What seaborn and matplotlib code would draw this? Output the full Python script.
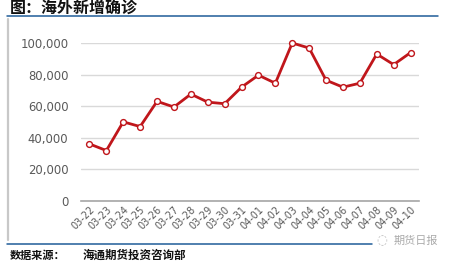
import matplotlib
matplotlib.use("Agg")
import matplotlib.pyplot as plt
import seaborn as sns
import pandas as pd
from matplotlib.lines import Line2D
from matplotlib.ticker import FuncFormatter

dates = ["03-22", "03-23", "03-24", "03-25", "03-26", "03-27", "03-28", "03-29", "03-30", "03-31",
         "04-01", "04-02", "04-03", "04-04", "04-05", "04-06", "04-07", "04-08", "04-09", "04-10"]
new_cases = [36000, 31800, 50000, 47000, 63000, 59400, 67600, 62500, 61500, 72000,
             79600, 74500, 100000, 96800, 76400, 72000, 74500, 93000, 86300, 93900]
y_ticks = [0, 20000, 40000, 60000, 80000, 100000]

title = "图：海外新增确诊"
source_label = "数据来源："
source_text = "海通期货投资咨询部"
watermark = "期货日报"

sns.set_theme(style="white")
plt.rcParams["font.family"] = ["Noto Sans CJK SC", "DejaVu Sans"]

W, H = 453, 264
fig = plt.figure(figsize=(W / 100, H / 100), dpi=100)
fig.patch.set_facecolor("white")

def fx(px):
    return px / W

def fy(py):
    return 1 - py / H

ax = fig.add_axes([fx(81), fy(200.7), fx(419) - fx(81), fy(43) - fy(200.7)])
df = pd.DataFrame({"date": dates, "cases": new_cases})
df["pos"] = range(len(df))
sns.lineplot(data=df, x="pos", y="cases", ax=ax, sort=False, color="#C0161B", linewidth=2.0,
             marker="o", markersize=4.2, markerfacecolor="white", markeredgecolor="#C0161B",
             markeredgewidth=1.0, clip_on=False, zorder=5)

ax.set_xlim(-0.5, len(dates) - 0.5)
ax.set_ylim(0, 100000)
ax.set_yticks(y_ticks)
ax.yaxis.set_major_formatter(FuncFormatter(lambda v, p: f"{int(v):,}"))
ax.set_xticks(range(len(dates)))
ax.set_xticklabels(dates, rotation=45, ha="right", rotation_mode="anchor",
                   fontsize=7, color="#595959", family="DejaVu Sans")
for lab in ax.get_yticklabels():
    lab.set_fontsize(8.4)
    lab.set_color("#595959")
    lab.set_family("DejaVu Sans")
ax.tick_params(axis="y", length=0, pad=9)
ax.tick_params(axis="x", length=0, pad=3)
ax.grid(axis="y", color="#D9D9D9", linewidth=1.0)
ax.grid(axis="x", visible=False)
for s in ["top", "right", "left"]:
    ax.spines[s].set_visible(False)
ax.spines["bottom"].set_color("#A6A6A6")
ax.spines["bottom"].set_linewidth(1.2)
ax.set_xlabel("")
ax.set_ylabel("")

# decorations
fig.add_artist(Line2D([fx(7), fx(438)], [fy(16), fy(16)], color="#1F5C99", linewidth=1.1))
fig.add_artist(Line2D([fx(8), fx(8)], [fy(19), fy(240)], color="#C8C8C8", linewidth=1.6))
fig.add_artist(Line2D([fx(7), fx(372)], [fy(244), fy(244)], color="#1F5C99", linewidth=1.1))

fig.text(fx(10), fy(8), title, fontsize=11.5, fontweight="bold", color="#111111", va="center", ha="left")
fig.text(fx(10), fy(255), source_label, fontsize=8, fontweight="bold", color="#111111", va="center", ha="left")
fig.text(fx(83), fy(255), source_text, fontsize=8.3, fontweight="bold", color="#111111", va="center", ha="left")
fig.text(fx(382), fy(241), "◌", fontsize=9, color="#BBBBBB", va="center", ha="center", family="DejaVu Sans")
fig.text(fx(394), fy(241), watermark, fontsize=8, color="#AAAAAA", va="center", ha="left")

fig.savefig("out.png", dpi=100)
